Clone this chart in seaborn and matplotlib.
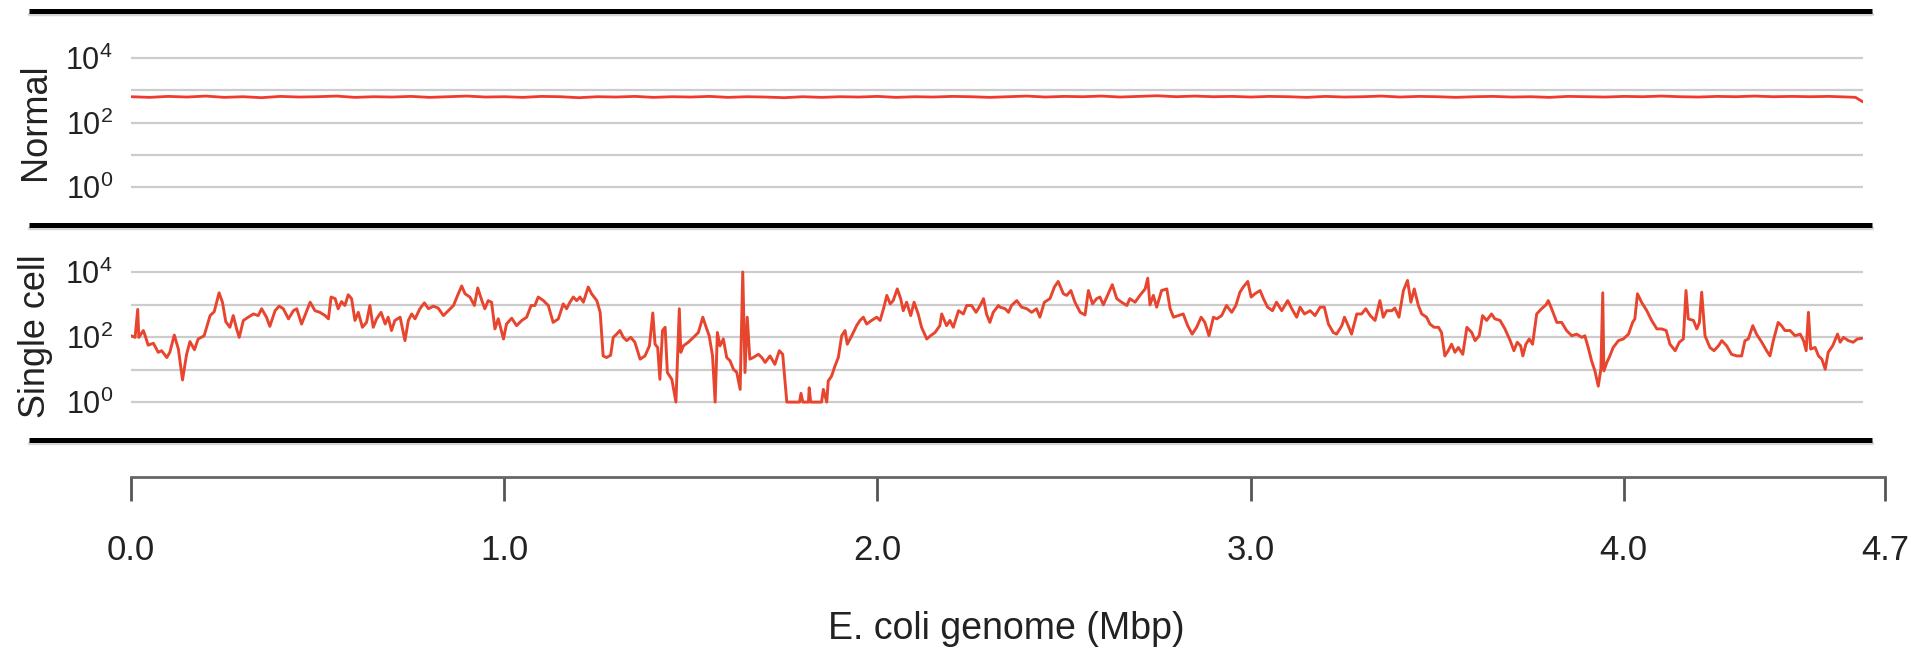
import numpy as np
import pandas as pd
import seaborn as sns
import matplotlib.pyplot as plt
from matplotlib.lines import Line2D
from matplotlib.ticker import NullLocator

# genome position (Mbp) and log10 read depth
normal_mbp = [0.00, 0.05, 0.10, 0.15, 0.20, 0.25, 0.30, 0.35, 0.40, 0.45,
              0.50, 0.55, 0.60, 0.65, 0.70, 0.75, 0.80, 0.85, 0.90, 0.95,
              1.00, 1.05, 1.10, 1.15, 1.20, 1.25, 1.30, 1.35, 1.40, 1.45,
              1.50, 1.55, 1.60, 1.65, 1.70, 1.75, 1.80, 1.85, 1.90, 1.95,
              2.00, 2.05, 2.10, 2.15, 2.20, 2.25, 2.30, 2.35, 2.40, 2.45,
              2.50, 2.55, 2.60, 2.65, 2.70, 2.75, 2.80, 2.85, 2.90, 2.95,
              3.00, 3.05, 3.10, 3.15, 3.20, 3.25, 3.30, 3.35, 3.40, 3.45,
              3.50, 3.55, 3.60, 3.65, 3.70, 3.75, 3.80, 3.85, 3.90, 3.95,
              4.00, 4.05, 4.10, 4.15, 4.20, 4.25, 4.30, 4.35, 4.40, 4.45,
              4.50, 4.55, 4.60, 4.62, 4.64]
normal_log = [2.80, 2.78, 2.81, 2.79, 2.82, 2.78, 2.80, 2.77, 2.81, 2.79,
              2.80, 2.82, 2.78, 2.80, 2.79, 2.81, 2.78, 2.80, 2.82, 2.79,
              2.80, 2.78, 2.81, 2.80, 2.77, 2.80, 2.79, 2.81, 2.78, 2.80,
              2.79, 2.81, 2.78, 2.80, 2.79, 2.77, 2.80, 2.78, 2.80, 2.79,
              2.81, 2.78, 2.80, 2.79, 2.81, 2.80, 2.78, 2.80, 2.82, 2.79,
              2.81, 2.80, 2.82, 2.79, 2.81, 2.83, 2.80, 2.82, 2.80, 2.81,
              2.79, 2.81, 2.80, 2.78, 2.81, 2.79, 2.80, 2.82, 2.79, 2.81,
              2.80, 2.78, 2.80, 2.81, 2.79, 2.80, 2.78, 2.81, 2.80, 2.79,
              2.81, 2.80, 2.82, 2.80, 2.79, 2.81, 2.80, 2.82, 2.80, 2.81,
              2.80, 2.81, 2.79, 2.78, 2.64]

sc_mbp = [0.000, 0.011, 0.018, 0.021, 0.033, 0.038, 0.046, 0.060, 0.073, 0.082,
          0.096, 0.104, 0.116, 0.127, 0.138, 0.149, 0.158, 0.170, 0.180, 0.196,
          0.212, 0.223, 0.236, 0.245, 0.254, 0.265, 0.274, 0.283, 0.290, 0.301,
          0.314, 0.328, 0.341, 0.350, 0.363, 0.372, 0.386, 0.397, 0.408, 0.422,
          0.435, 0.444, 0.457, 0.471, 0.480, 0.493, 0.506, 0.520, 0.529, 0.536,
          0.547, 0.555, 0.564, 0.573, 0.582, 0.591, 0.600, 0.609, 0.620, 0.631,
          0.640, 0.649, 0.658, 0.670, 0.681, 0.689, 0.698, 0.707, 0.721, 0.734,
          0.743, 0.752, 0.761, 0.774, 0.786, 0.797, 0.810, 0.823, 0.837, 0.850,
          0.864, 0.875, 0.886, 0.895, 0.908, 0.920, 0.929, 0.940, 0.948, 0.957,
          0.966, 0.975, 0.984, 0.998, 1.006, 1.020, 1.033, 1.047, 1.060, 1.072,
          1.082, 1.091, 1.105, 1.118, 1.131, 1.145, 1.158,
          1.167, 1.176, 1.185, 1.194, 1.203, 1.212, 1.225, 1.234, 1.248, 1.257,
          1.265, 1.274, 1.285, 1.292, 1.301, 1.310, 1.319, 1.328, 1.339, 1.350,
          1.364, 1.377, 1.389, 1.398, 1.404, 1.411, 1.417, 1.424, 1.431, 1.437,
          1.449, 1.460, 1.469, 1.473, 1.480, 1.493, 1.507, 1.520, 1.532, 1.541,
          1.549, 1.558, 1.565, 1.571, 1.578, 1.587, 1.596, 1.605, 1.614, 1.623,
          1.632, 1.639, 1.645, 1.651, 1.658, 1.667, 1.681, 1.690, 1.699, 1.712,
          1.725, 1.737, 1.746, 1.757, 1.791, 1.795, 1.800, 1.815, 1.817, 1.821,
          1.850, 1.855, 1.864, 1.868, 1.877, 1.886, 1.895, 1.904, 1.913, 1.919,
          1.931, 1.944, 1.953, 1.962, 1.971, 1.984, 1.998, 2.007, 2.016, 2.025,
          2.034, 2.042, 2.053, 2.062, 2.069, 2.078, 2.089, 2.098, 2.109, 2.118,
          2.132, 2.142, 2.154, 2.167, 2.172, 2.185, 2.194, 2.203, 2.217, 2.230,
          2.239, 2.252, 2.264, 2.275, 2.284, 2.292, 2.301, 2.310, 2.324,
          2.328, 2.342, 2.351, 2.359, 2.373, 2.386, 2.400, 2.413, 2.426, 2.435,
          2.447, 2.462, 2.474, 2.484, 2.498, 2.507, 2.518, 2.529, 2.543, 2.556,
          2.565, 2.576, 2.587, 2.596, 2.605, 2.618, 2.629, 2.641, 2.654, 2.668,
          2.676, 2.690, 2.703, 2.717, 2.724, 2.730, 2.739, 2.748, 2.761, 2.775,
          2.784, 2.793, 2.806, 2.819, 2.831, 2.843, 2.855, 2.867, 2.877, 2.888,
          2.900, 2.909, 2.922, 2.935, 2.949, 2.960, 2.971, 2.980, 2.992, 3.001,
          3.011, 3.025, 3.034, 3.045, 3.058, 3.069, 3.083, 3.099, 3.110, 3.123,
          3.132, 3.144, 3.159, 3.172, 3.186, 3.197, 3.208, 3.221, 3.230, 3.244,
          3.251, 3.261, 3.270, 3.284, 3.297, 3.308, 3.320, 3.333, 3.346, 3.355,
          3.364, 3.378, 3.386, 3.397, 3.409, 3.420, 3.429, 3.438, 3.449, 3.458,
          3.471, 3.480,
          3.491, 3.503, 3.511, 3.520, 3.529, 3.538, 3.547, 3.556, 3.568, 3.579,
          3.592, 3.601, 3.612, 3.621, 3.632, 3.645, 3.654, 3.668, 3.681, 3.695,
          3.705, 3.714, 3.723, 3.729, 3.737, 3.746, 3.755, 3.766, 3.779, 3.791,
          3.797, 3.806, 3.820, 3.833, 3.846, 3.860, 3.873, 3.887, 3.895, 3.904,
          3.913, 3.922, 3.931, 3.938, 3.943, 3.946, 3.954, 3.962, 3.971, 3.985,
          3.998, 4.012, 4.023, 4.029, 4.036, 4.047, 4.061, 4.074, 4.088, 4.101,
          4.113, 4.123, 4.137, 4.148, 4.159, 4.166, 4.172, 4.186, 4.195, 4.202,
          4.208, 4.217, 4.230, 4.241, 4.253, 4.262, 4.275, 4.288, 4.302, 4.315,
          4.324, 4.333, 4.345, 4.355, 4.369, 4.382, 4.391, 4.400, 4.413, 4.422,
          4.431, 4.445, 4.458, 4.472, 4.481, 4.488, 4.494, 4.500, 4.512, 4.521,
          4.530, 4.539, 4.547, 4.559, 4.572, 4.579, 4.588, 4.601, 4.614, 4.625,
          4.637]
sc_log = [2.04, 1.99, 2.85, 1.99, 2.20, 2.04, 1.75, 1.81, 1.53, 1.58,
          1.37, 1.53, 2.06, 1.63, 0.68, 1.47, 1.86, 1.61, 1.94, 2.04,
          2.66, 2.78, 3.36, 3.07, 2.47, 2.30, 2.66, 2.25, 1.99, 2.51,
          2.61, 2.71, 2.66, 2.87, 2.61, 2.33, 2.81, 2.95, 2.87, 2.56,
          2.81, 2.87, 2.40, 2.81, 3.07, 2.81, 2.76, 2.66, 2.56, 3.23,
          3.18, 2.87, 3.09, 2.97, 3.30, 3.18, 2.51, 2.76, 2.30, 2.45,
          2.97, 2.30, 2.56, 2.76, 2.40, 2.61, 2.20, 2.51, 2.61, 1.89,
          2.51, 2.71, 2.56, 2.87, 3.05, 2.87, 2.95, 2.89, 2.66, 2.81,
          2.97, 3.28, 3.57, 3.33, 3.23, 2.97, 3.51, 3.12, 2.87, 3.12,
          3.07, 2.25, 2.56, 1.94, 2.40, 2.58, 2.35, 2.51, 2.61, 2.97,
          2.97, 3.23, 3.12, 2.97, 2.45, 2.56, 3.02,
          2.87, 3.07, 3.23, 3.12, 3.23, 3.07, 3.54, 3.33, 3.12, 2.76,
          1.42, 1.37, 1.44, 1.99, 2.09, 2.20, 1.99, 1.89, 1.99, 1.84,
          1.32, 1.42, 1.73, 2.74, 1.78, 1.68, 0.70, 2.20, 2.30, 0.91,
          0.70, 0.00, 2.87, 1.53, 1.73, 1.84, 1.99, 2.14, 2.61, 2.30,
          2.04, 1.42, 0.00, 2.14, 1.73, 1.94, 1.37, 1.27, 1.01, 0.91,
          0.39, 4.00, 0.91, 2.61, 1.32, 1.37, 1.47, 1.37, 1.22, 1.42,
          1.16, 1.58, 1.47, 0.00, 0.00, 0.27, 0.00, 0.00, 0.44, 0.00,
          0.00, 0.39, 0.00, 0.65, 0.80, 1.11, 1.37, 2.04, 2.20, 1.78,
          2.04, 2.35, 2.51, 2.61, 2.40, 2.51, 2.61, 2.51, 2.87, 3.28,
          3.02, 3.12, 3.48, 3.18, 2.81, 3.07, 2.66, 3.07, 2.71, 2.30,
          1.94, 2.04, 2.14, 2.35, 2.71, 2.35, 2.51, 2.30, 2.81, 2.71,
          2.97, 2.97, 2.76, 2.97, 3.18, 2.71, 2.45, 2.76, 2.97,
          2.92, 2.87, 2.76, 2.97, 3.12, 2.92, 2.87, 2.76, 2.87, 2.61,
          3.07, 3.18, 3.54, 3.71, 3.33, 3.28, 3.43, 3.07, 2.76, 2.68,
          3.43, 3.02, 3.18, 3.23, 2.99, 3.33, 3.61, 3.18, 3.07, 2.97,
          3.18, 3.07, 3.28, 3.48, 3.81, 2.99, 3.28, 2.92, 3.43, 3.48,
          2.87, 2.61, 2.66, 2.71, 2.35, 2.09, 2.30, 2.61, 2.45, 2.04,
          2.61, 2.56, 2.66, 2.97, 2.76, 2.97, 3.38, 3.54, 3.71, 3.23,
          3.33, 3.43, 3.18, 2.92, 2.81, 3.07, 2.81, 3.12, 2.87, 2.61,
          2.92, 2.71, 2.81, 2.66, 2.92, 2.92, 2.40, 2.14, 2.09, 2.35,
          2.61, 2.35, 2.09, 2.71, 2.71, 2.87, 2.66, 2.51, 3.12, 2.61,
          2.81, 2.81, 2.89, 2.61, 3.43, 3.74, 3.07, 3.48, 2.97, 2.71,
          2.61, 2.40,
          2.30, 2.30, 2.14, 1.42, 1.58, 1.78, 1.53, 1.68, 1.47, 2.30,
          2.14, 1.89, 2.04, 2.66, 2.51, 2.71, 2.56, 2.51, 2.25, 1.89,
          1.58, 1.84, 1.73, 1.42, 1.78, 1.94, 1.78, 2.71, 2.87, 2.99,
          3.12, 2.87, 2.45, 2.45, 2.20, 2.04, 2.09, 1.99, 2.04, 1.68,
          1.27, 0.96, 0.49, 1.01, 3.36, 0.96, 1.22, 1.42, 1.68, 1.89,
          1.94, 2.09, 2.45, 2.56, 3.33, 3.07, 2.81, 2.51, 2.25, 2.25,
          2.20, 1.78, 1.58, 1.84, 1.94, 3.43, 2.56, 2.51, 2.25, 2.45,
          3.38, 2.04, 1.68, 1.58, 1.73, 1.89, 1.73, 1.47, 1.42, 1.42,
          1.89, 1.94, 2.35, 2.09, 1.84, 1.58, 1.42, 1.89, 2.45, 2.35,
          2.20, 2.20, 2.04, 2.09, 1.89, 1.58, 2.76, 1.63, 1.68, 1.42,
          1.32, 1.01, 1.53, 1.73, 2.09, 1.84, 1.99, 1.89, 1.84, 1.94,
          1.96]

panel_names = ['Normal', 'Single cell']
ytick_vals = [1, 10, 100, 1000, 10000]
ytick_labels = [r'$\mathregular{10^0}$', '', r'$\mathregular{10^2}$', '', r'$\mathregular{10^4}$']
xtick_vals = [0.0, 1.0, 2.0, 3.0, 4.0, 4.7]
xtick_labels = ['0.0', '1.0', '2.0', '3.0', '4.0', '4.7']

sns.set_style('white')
plt.rcParams['font.family'] = ['Liberation Sans', 'DejaVu Sans']

normal = pd.DataFrame({'pos': normal_mbp, 'depth': 10 ** np.array(normal_log)})
single = pd.DataFrame({'pos': sc_mbp, 'depth': 10 ** np.array(sc_log)})

fig = plt.figure(figsize=(19.15, 6.5), dpi=100)
ax1 = fig.add_axes([0.0684, 0.6546, 0.9044, 0.3285])
ax2 = fig.add_axes([0.0684, 0.3231, 0.9044, 0.3315])
ax3 = fig.add_axes([0.0684, 0.2662, 0.9159, 0.01])

for ax, df, name, col, lw in [(ax1, normal, panel_names[0], '#f03a2e', 2.0),
                              (ax2, single, panel_names[1], '#e8452f', 2.1)]:
    sns.lineplot(data=df, x='pos', y='depth', ax=ax, color=col, lw=lw,
                 estimator=None, sort=False)
    ax.set_yscale('log')
    ax.set_ylim(10 ** -1.165, 10 ** 5.46)
    ax.set_xlim(0, 4.64)
    ax.set_yticks(ytick_vals)
    ax.set_yticklabels(ytick_labels)
    ax.yaxis.set_minor_locator(NullLocator())
    ax.grid(axis='y', color='#cccccc', lw=1.6)
    ax.set_axisbelow(True)
    ax.tick_params(axis='y', length=0, pad=13, labelsize=22, labelcolor='#222222')
    ax.set_xticks([])
    ax.set_xlabel('')
    ax.set_ylabel(name, fontsize=26, color='#222222')
    ax.yaxis.set_label_coords(-0.045, 0.48)
    for s in ax.spines.values():
        s.set_visible(False)
    ax.patch.set_visible(False)

# thick black separators with a soft shadow
for y in [0.983, 0.6546, 0.3231]:
    fig.add_artist(Line2D([0.0151, 0.9775], [y - 0.005, y - 0.005], transform=fig.transFigure,
                          color='#bbbbbb', lw=2.5, alpha=0.6))
    fig.add_artist(Line2D([0.0151, 0.9775], [y, y], transform=fig.transFigure,
                          color='black', lw=3.6, solid_capstyle='butt'))

# genome axis
ax3.set_xlim(0, 4.7)
ax3.set_xticks(xtick_vals)
ax3.set_xticklabels(xtick_labels)
ax3.set_yticks([])
for s in ['top', 'left', 'right']:
    ax3.spines[s].set_visible(False)
ax3.spines['bottom'].set_color('#666666')
ax3.spines['bottom'].set_linewidth(2.0)
ax3.tick_params(axis='x', bottom=True, direction='out', length=17, width=2.0,
                color='#555555', pad=24, labelsize=25, labelcolor='#222222')
ax3.patch.set_visible(False)
ax3.set_xlabel('E. coli genome (Mbp)', fontsize=27, color='#222222')
ax3.xaxis.label.set_va('bottom')
ax3.xaxis.set_label_coords(0.5253, 0.004, transform=fig.transFigure)

fig.savefig('out.png', dpi=100)
